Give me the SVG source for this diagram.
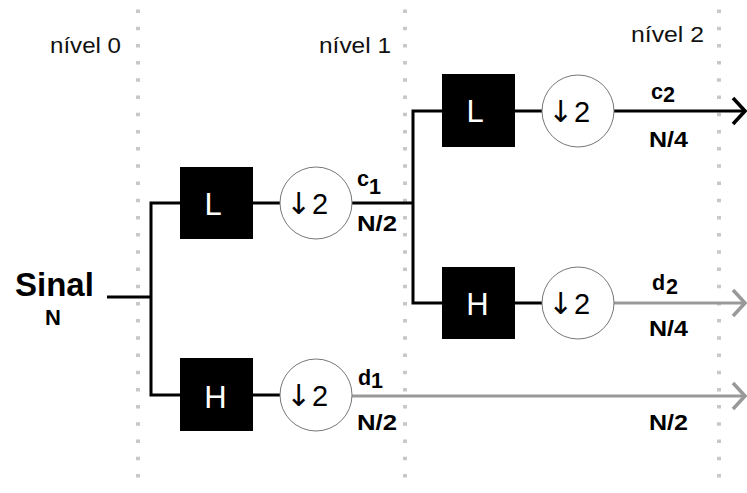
<svg xmlns="http://www.w3.org/2000/svg" width="747" height="493" viewBox="0 0 747 493">
<style>
.grid{stroke:#c8c8c8;stroke-width:4;stroke-dasharray:3.5 13.7;fill:none}
.wb{stroke:#000;stroke-width:3;fill:none}
.wg{stroke:#999;stroke-width:3;fill:none}
.ab{stroke:#000;stroke-width:3.5;fill:none}
.ag{stroke:#999;stroke-width:3.5;fill:none}
.box{fill:#000}
.circ{fill:#fff;stroke:#777;stroke-width:1}
.lvl{font-family:"Liberation Sans",Arial,sans-serif;font-size:22.5px;fill:#111}
.blk{font-family:"Liberation Sans",Arial,sans-serif;font-size:31px;fill:#fff}
.ds{font-family:"Liberation Sans",Arial,sans-serif;font-size:29px;fill:#000}
.ar{font-family:"DejaVu Sans",sans-serif;font-size:30px}
.lb{font-family:"Liberation Sans",Arial,sans-serif;font-weight:bold;font-size:21.5px;fill:#000}
</style>
<g id="grid">
<line class="grid" x1="138" y1="9.5" x2="138" y2="490"/>
<line class="grid" x1="405" y1="9.5" x2="405" y2="490"/>
<line class="grid" x1="719" y1="9.5" x2="719" y2="490"/>
</g>
<g id="levels">
<text class="lvl" x="50" y="52.5" textLength="71" lengthAdjust="spacingAndGlyphs">nível 0</text>
<text class="lvl" x="319" y="52.5" textLength="72" lengthAdjust="spacingAndGlyphs">nível 1</text>
<text class="lvl" x="631" y="41.5" textLength="73" lengthAdjust="spacingAndGlyphs">nível 2</text>
</g>
<g id="connectors">
<path class="wb" d="M107 297 H151"/>
<path class="wb" d="M180 203 H151 V395 H180"/>
<path class="wb" d="M253 203 H280"/>
<path class="wb" d="M253 395 H280"/>
<path class="wb" d="M352 203 H413"/>
<path class="wb" d="M442 111 H413 V303 H442"/>
<path class="wb" d="M515 111 H542"/>
<path class="wb" d="M515 303 H542"/>
<path class="wb" d="M614 111 H744"/>
<path class="ab" d="M733 98 L745 111 L733 124"/>
<path class="wg" d="M614 303 H744"/>
<path class="ag" d="M733 290 L745 303 L733 316"/>
<path class="wg" d="M352 396 H744"/>
<path class="ag" d="M733 383 L745 396 L733 409"/>
</g>
<g id="sinal">
<text class="lb" x="15" y="296" style="font-size:33px">Sinal</text>
<text class="lb" x="45" y="325" style="font-size:22px">N</text>
</g>
<g id="L1">
<rect class="box" x="180" y="167" width="73" height="72"/>
<text class="blk" x="204.5" y="215">L</text>
</g>
<g id="D1a">
<circle class="circ" cx="316" cy="203" r="36"/>
<text class="ds" x="286" y="214"><tspan class="ar">↓</tspan><tspan x="312">2</tspan></text>
</g>
<g id="H1">
<rect class="box" x="180" y="358" width="73" height="73"/>
<text class="blk" x="215.5" y="408" text-anchor="middle">H</text>
</g>
<g id="D1b">
<circle class="circ" cx="316" cy="395" r="36"/>
<text class="ds" x="286" y="406"><tspan class="ar">↓</tspan><tspan x="312">2</tspan></text>
</g>
<g id="L2">
<rect class="box" x="442" y="74" width="73" height="73"/>
<text class="blk" x="466.5" y="122">L</text>
</g>
<g id="D2a">
<circle class="circ" cx="578" cy="111" r="36"/>
<text class="ds" x="548" y="122"><tspan class="ar">↓</tspan><tspan x="574">2</tspan></text>
</g>
<g id="H2">
<rect class="box" x="442" y="267" width="73" height="72"/>
<text class="blk" x="477.5" y="315" text-anchor="middle">H</text>
</g>
<g id="D2b">
<circle class="circ" cx="578" cy="303" r="36"/>
<text class="ds" x="548" y="314"><tspan class="ar">↓</tspan><tspan x="574">2</tspan></text>
</g>
<g id="labels">
<text class="lb" x="357" y="186">c<tspan x="369" y="194">1</tspan></text>
<text class="lb" x="357" y="231" textLength="40" lengthAdjust="spacingAndGlyphs">N/2</text>
<text class="lb" x="651" y="99">c<tspan x="663" y="102">2</tspan></text>
<text class="lb" x="649" y="147" textLength="39" lengthAdjust="spacingAndGlyphs">N/4</text>
<text class="lb" x="652" y="290">d<tspan x="666" y="294">2</tspan></text>
<text class="lb" x="649" y="336" textLength="39" lengthAdjust="spacingAndGlyphs">N/4</text>
<text class="lb" x="358" y="385">d<tspan x="371" y="388">1</tspan></text>
<text class="lb" x="357" y="430" textLength="40" lengthAdjust="spacingAndGlyphs">N/2</text>
<text class="lb" x="649" y="430" textLength="39" lengthAdjust="spacingAndGlyphs">N/2</text>
</g>
</svg>
